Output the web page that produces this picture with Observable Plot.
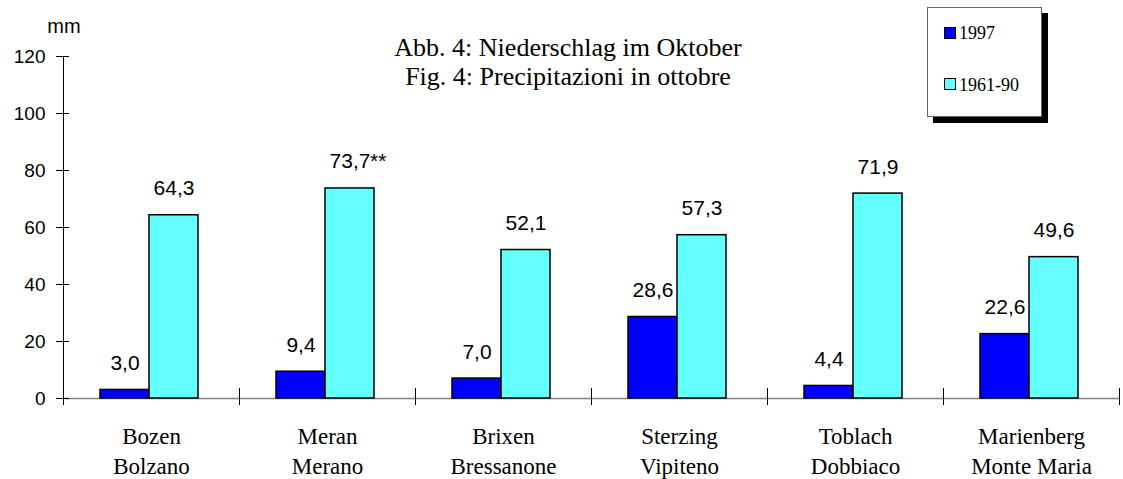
<!DOCTYPE html>
<html><head><meta charset="utf-8">
<script src="https://cdn.jsdelivr.net/npm/d3@7"></script>
<script src="https://cdn.jsdelivr.net/npm/@observablehq/plot@0.6"></script>
<style>
body{margin:0;background:#fff;}
#wrap{position:relative;width:1123px;height:479px;overflow:hidden;}
#wrap svg{position:absolute;left:0;top:0;}
.title{position:absolute;left:368px;top:33px;width:400px;text-align:center;font-family:"Liberation Serif";font-size:26px;line-height:29px;color:#000;white-space:nowrap;}
.unit{position:absolute;left:40px;top:15px;width:48px;text-align:center;font-family:"Liberation Sans";font-size:20px;line-height:22px;color:#000;}
.legend{position:absolute;left:927px;top:7px;width:113px;height:108px;border:1px solid #666;box-shadow:6px 6px 0 #000;background:#fff;}
.sw{position:absolute;left:16px;width:10px;height:10px;border:1.5px solid #000;}
.lt{position:absolute;left:31px;font-family:"Liberation Serif";font-size:18px;line-height:20px;color:#000;white-space:nowrap;}
</style></head><body>
<div id="wrap"></div>
<script>
const namesDE = ["Bozen", "Meran", "Brixen", "Sterzing", "Toblach", "Marienberg"];
const namesIT = ["Bolzano", "Merano", "Bressanone", "Vipiteno", "Dobbiaco", "Monte Maria"];
const series = ["1997", "1961-90"];
const values1997 = [3.0, 9.4, 7.0, 28.6, 4.4, 22.6];
const values6190 = [64.3, 73.7, 52.1, 57.3, 71.9, 49.6];
const notes6190 = ["", "**", "", "", "", ""];
const yTicks = [0, 20, 40, 60, 80, 100, 120];
const colors = ["#0000ff", "#66ffff"];
const titleLines = ["Abb. 4: Niederschlag im Oktober", "Fig. 4: Precipitazioni in ottobre"];
const unitLabel = "mm";

const stations = namesDE.map((d, i) => d + "\n" + namesIT[i]);
const data = stations.flatMap((s, i) => [
  {station: s, series: series[0], value: values1997[i], note: ""},
  {station: s, series: series[1], value: values6190[i], note: notes6190[i]}
]);
const fmt = v => v.toFixed(1).replace(".", ",");

const chart = Plot.plot({
  width: 1123, height: 479,
  marginLeft: 61, marginRight: 2, marginTop: 56, marginBottom: 81,
  style: {fontFamily: "Liberation Sans", color: "#000", background: "transparent"},
  fx: {domain: stations, padding: 0, axis: null},
  x: {domain: series, paddingInner: 0, paddingOuter: 0.77, align: 0.47, axis: null},
  y: {domain: [0, 120], axis: null},
  color: {domain: series, range: colors},
  marks: [
    Plot.ruleY([0], {stroke: "#808080", strokeWidth: 1.3}),
    Plot.frame({anchor: "left", insetTop: 332, insetBottom: -6, stroke: "#000"}),
    Plot.frame({anchor: "right", facetAnchor: "right", insetTop: 332, insetBottom: -6, stroke: "#000"}),
    Plot.frame({anchor: "left", facetAnchor: "left", insetBottom: -6, stroke: "#000"}),
    Plot.barY(data, {fx: "station", x: "series", y: "value", fill: "series", stroke: "#000", strokeWidth: 1.5}),
    Plot.text(data, {fx: "station", x: "series", y: "value", text: d => fmt(d.value), lineAnchor: "bottom", dy: -20, fontSize: 21, fill: "#000"}),
    Plot.text(data.filter(d => d.note), {fx: "station", x: "series", y: "value", text: "note", lineAnchor: "bottom", textAnchor: "start", dx: 20, dy: -20, fontSize: 21, fill: "#000"}),
    Plot.axisY({ticks: yTicks, tickSize: 13, dx: 6, tickPadding: 11, fontSize: 19, label: null, tickFormat: d => String(d)}),
    Plot.axisFx({anchor: "bottom", tickSize: 0, tickPadding: 24, lineHeight: 1.3, fontFamily: "Liberation Serif", fontSize: 23, label: null})
  ]
});

const wrap = document.getElementById("wrap");
wrap.appendChild(chart);

const t = document.createElement("div");
t.className = "title";
t.innerHTML = titleLines.join("<br>");
wrap.appendChild(t);

const u = document.createElement("div");
u.className = "unit";
u.textContent = unitLabel;
wrap.appendChild(u);

const lg = document.createElement("div");
lg.className = "legend";
const rows = [{sw: 19, lt: 15}, {sw: 70, lt: 67}];
series.forEach((s, i) => {
  const sw = document.createElement("div");
  sw.className = "sw";
  sw.style.top = rows[i].sw + "px";
  sw.style.background = colors[i];
  lg.appendChild(sw);
  const lt = document.createElement("div");
  lt.className = "lt";
  lt.style.top = rows[i].lt + "px";
  lt.textContent = s;
  lg.appendChild(lt);
});
wrap.appendChild(lg);
</script>
</body></html>
